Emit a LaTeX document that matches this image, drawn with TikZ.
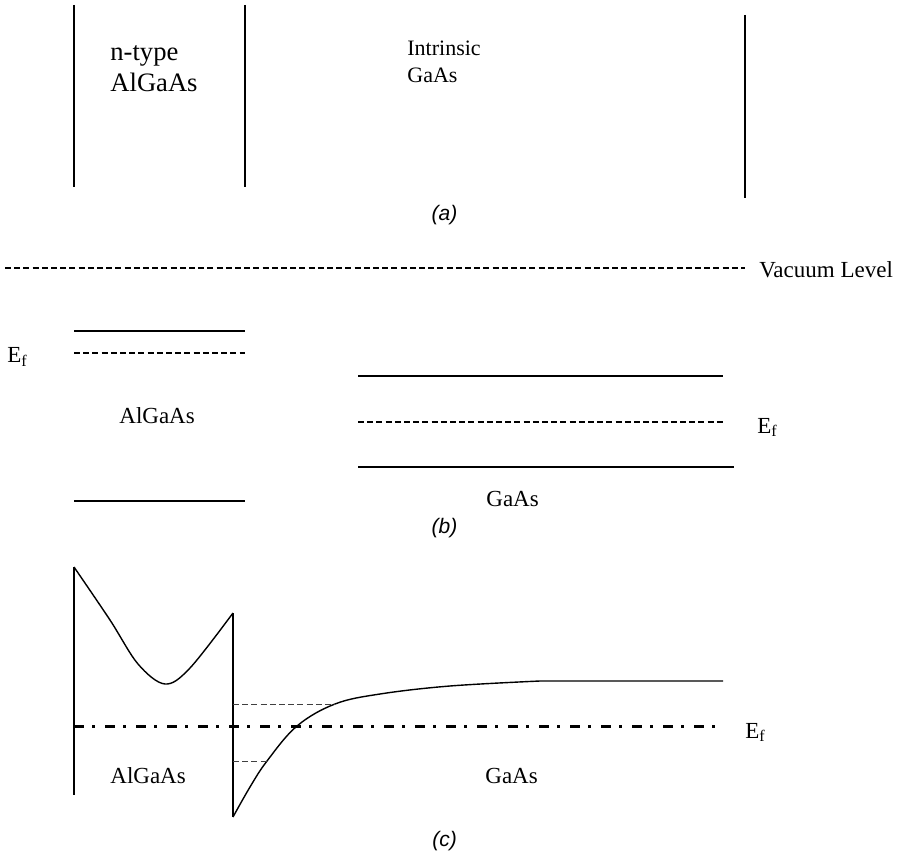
\documentclass[tikz,border=0pt]{standalone}
\usepackage{fontspec}
\setmainfont{Liberation Serif}
\setsansfont{Liberation Sans}
\usepackage{tikz}
\usetikzlibrary{positioning,calc}
\tikzset{
  wall/.style={line width=1pt},
  level/.style={line width=0.8pt},
  fermi/.style={line width=0.7pt,dash pattern=on 3pt off 1.6pt},
  vac/.style={line width=0.6pt,dash pattern=on 3pt off 1.6pt},
  band/.style={line width=0.7pt},
  fermidd/.style={line width=1.5pt,dash pattern=on 5pt off 4pt on 1.5pt off 5pt},
  guide/.style={line width=0.5pt,black!75,dash pattern=on 3pt off 1.6pt},
  lbl/.style={inner sep=0pt,anchor=base west,align=left,font=\fontsize{11.5}{13.8}\selectfont},
  figcap/.style={inner sep=0pt,anchor=base,font=\sffamily\itshape\fontsize{10.5}{12}\selectfont},
}

\begin{document}
\begin{tikzpicture}[x=0.5pt,y=-0.5pt]
  \useasboundingbox (0,0) rectangle (899,855);
  % (a) layers
  \foreach \x/\a/\b in {74/5/187,245/5/187,745/15/198} \draw[wall] (\x,\a) -- (\x,\b);
  \node[lbl,font=\fontsize{13.3}{15.6}\selectfont] (ntype) at (110,92) {n-type\\AlGaAs};
  \node[lbl,font=\fontsize{11}{13.5}\selectfont] (intr) at (407,83) {Intrinsic\\GaAs};
  \node[figcap] (capa) at (444.5,221) {(a)};
  % (b) separate band diagrams
  \draw[vac] (5,268) -- (745,268);
  \node[lbl] (vaclev) at (759,278) {Vacuum Level};
  \draw[level] (74,331) -- (245,331);
  \draw[fermi] (74,353) -- (245,353);
  \draw[level] (74,501) -- (245,501);
  \node[lbl] (efl) at (7,363) {E\textsubscript{f}};
  \node[lbl] (algaasb) at (119,423) {AlGaAs};
  \draw[level] (358,376) -- (723,376);
  \draw[fermi] (358,422) -- (723,422);
  \draw[level] (358,467) -- (734,467);
  \node[lbl] (efr) at (757,433) {E\textsubscript{f}};
  \node[lbl] (gaasb) at (486,506) {GaAs};
  \node[figcap] (capb) at (444.5,533) {(b)};
  % (c) heterojunction
  \coordinate (ltop) at (74,567);
  \coordinate (lbot) at (74,795);
  \coordinate (jtop) at (233,613);
  \coordinate (jbot) at (233,817);
  \draw[wall,line width=0.8pt] (ltop) -- (lbot);
  \draw[wall,line width=0.8pt] (jtop) -- (jbot);
  \draw[band] plot[smooth,tension=0.55] coordinates
    {(74,567) (110,620) (138,664) (165,684) (190,668) (233,613)};
  \draw[band] plot[smooth,tension=0.6] coordinates
    {(233,817) (250,787) (267,761) (297,726) (335,704) (380,694) (450,686) (540,681)}
    -- (723,681);
  \draw[guide] (233,704) -- (335,704);
  \draw[guide] (233,761) -- (267,761);
  \draw[fermidd] (74,726) -- (723,726);
  \node[lbl] (efc) at (745,738) {E\textsubscript{f}};
  \node[lbl] (algaasc) at (110,783) {AlGaAs};
  \node[lbl] (gaasc) at (485,783) {GaAs};
  \node[figcap] (capc) at (444.5,846) {(c)};
\end{tikzpicture}
\end{document}
